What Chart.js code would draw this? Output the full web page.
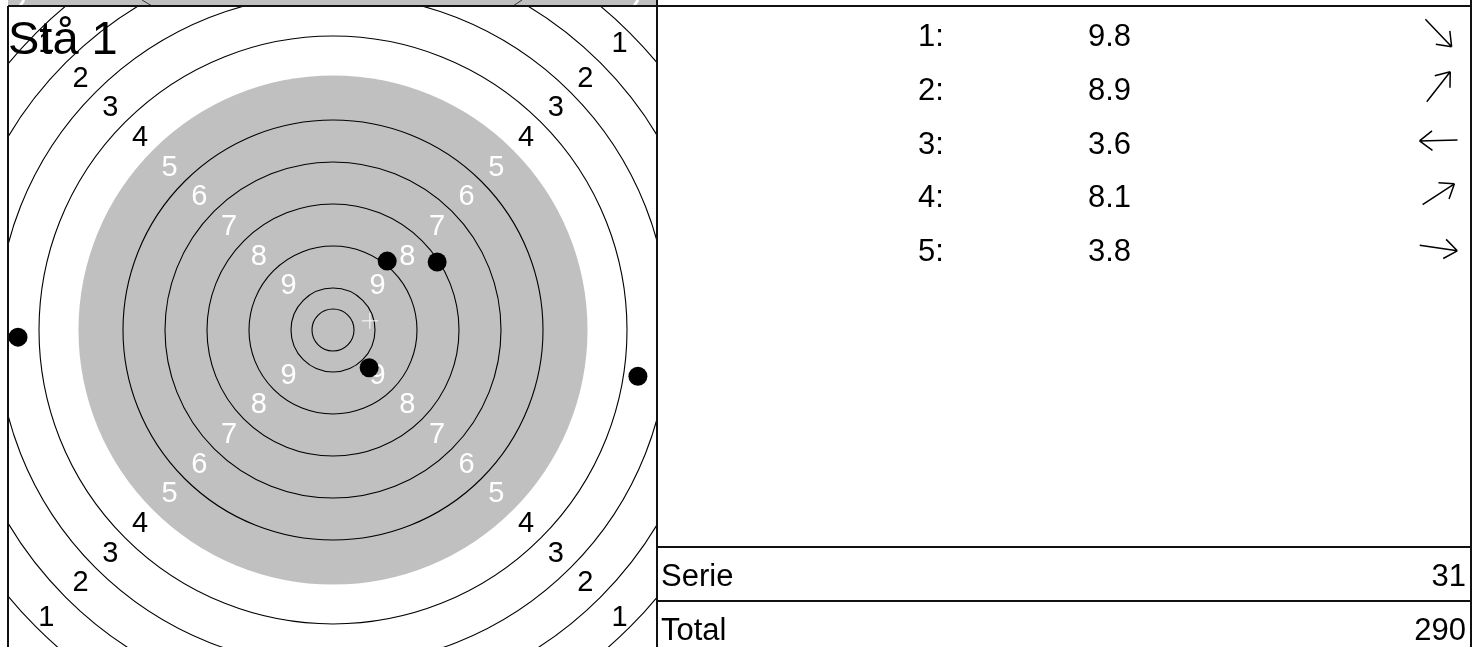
<!DOCTYPE html>
<html><head><meta charset="utf-8">
<script src="https://cdn.jsdelivr.net/npm/chart.js@4.4.0/dist/chart.umd.min.js"></script>
<style>html,body{margin:0;padding:0;background:#fff;overflow:hidden}canvas{display:block}</style>
</head><body>
<canvas id="c" width="1477" height="647"></canvas>
<script>
// ---- data ----
const seriesTitle = 'Stå 1';
const shotNumbers = [1, 2, 3, 4, 5];
const shotScores = [9.8, 8.9, 3.6, 8.1, 3.8];
const shotX = [0.86, 1.29, -7.50, 2.48, 7.26];   // ring units, right +
const shotY = [-0.90, 1.64, -0.17, 1.62, -1.10]; // ring units, up +
const ringValues = [1, 2, 3, 4, 5, 6, 7, 8, 9, 10];
const ringLabelValues = [1, 2, 3, 4, 5, 6, 7, 8, 9];
const aimRingFrom = 5;          // grey aiming area covers rings 5..10
const serieLabel = 'Serie', serieScore = 31;
const totalLabel = 'Total', totalScore = 290;

const FONT = "'Liberation Sans', Arial, Helvetica, sans-serif";
const mean = a => a.reduce((s, v) => s + v, 0) / a.length;

const targetPlugin = {
  id: 'target',
  beforeDatasetsDraw(chart) {
    const ctx = chart.ctx, xs = chart.scales.x, ys = chart.scales.y, ca = chart.chartArea;
    const cx = xs.getPixelForValue(0), cy = ys.getPixelForValue(0);
    const unit = xs.getPixelForValue(1) - cx;
    ctx.save();
    ctx.beginPath(); ctx.rect(ca.left, ca.top, ca.right - ca.left, ca.bottom - ca.top); ctx.clip();
    // grey aiming disc
    ctx.fillStyle = '#c0c0c0';
    ctx.beginPath(); ctx.arc(cx, cy, (11 - aimRingFrom + 0.06) * unit, 0, Math.PI * 2); ctx.fill();
    // rings
    ctx.strokeStyle = '#000'; ctx.lineWidth = 1.1;
    ringValues.forEach(v => {
      if (v === aimRingFrom) return;
      ctx.beginPath(); ctx.arc(cx, cy, (11 - v) * unit, 0, Math.PI * 2); ctx.stroke();
    });
    ctx.beginPath(); ctx.arc(cx, cy, 0.5 * unit, 0, Math.PI * 2); ctx.stroke();
    // ring numbers on the diagonals
    ctx.font = '29px ' + FONT; ctx.textAlign = 'center'; ctx.textBaseline = 'middle';
    ringLabelValues.forEach(v => {
      const d = (11 - v - 0.5 + (v === 1 ? 0.15 : 0)) * unit * Math.SQRT1_2;
      ctx.fillStyle = v >= aimRingFrom ? '#fff' : '#000';
      [[1, -1], [-1, -1], [1, 1], [-1, 1]].forEach(([sx, sy]) => {
        ctx.fillText(String(v), cx + sx * d, cy + sy * d + 1);
      });
    });
    ctx.restore();
  },
  afterDatasetsDraw(chart) {
    const ctx = chart.ctx, ca = chart.chartArea;
    ctx.save();
    // top strip
    ctx.fillStyle = '#c0c0c0'; ctx.fillRect(ca.left, 0, ca.right - ca.left, ca.top);
    ctx.strokeStyle = '#fff'; ctx.lineWidth = 3;
    ctx.beginPath(); ctx.moveTo(24, 0); ctx.lineTo(20, 6); ctx.moveTo(638, 0); ctx.lineTo(634, 6); ctx.stroke();
    ctx.strokeStyle = '#333'; ctx.lineWidth = 1;
    ctx.beginPath(); ctx.moveTo(142, 0); ctx.lineTo(152, 6); ctx.moveTo(522, 0); ctx.lineTo(513, 6); ctx.stroke();
    // frame
    ctx.strokeStyle = '#111'; ctx.lineWidth = 2;
    const R = 1471;
    ctx.beginPath();
    ctx.moveTo(ca.left, ca.top); ctx.lineTo(R, ca.top);
    ctx.moveTo(ca.left, ca.top); ctx.lineTo(ca.left, 647);
    ctx.moveTo(ca.right, 0); ctx.lineTo(ca.right, 647);
    ctx.moveTo(R, 0); ctx.lineTo(R, 647);
    ctx.moveTo(ca.right, 547); ctx.lineTo(R, 547);
    ctx.moveTo(ca.right, 601); ctx.lineTo(R, 601);
    ctx.stroke();
    // title
    ctx.fillStyle = '#000'; ctx.font = '47px ' + FONT; ctx.textAlign = 'left'; ctx.textBaseline = 'alphabetic';
    ctx.fillText(seriesTitle, 8, 54);
    // shot table
    ctx.font = '31px ' + FONT;
    shotNumbers.forEach((n, i) => {
      const y = 46 + 53.75 * i;
      ctx.textAlign = 'left';
      ctx.fillText(n + ':', 918, y);
      ctx.fillText(shotScores[i].toFixed(1), 1088, y);
      // direction arrow
      const ang = Math.atan2(-shotY[i], shotX[i]);
      const ax = 1438.5, ay = y - 13, L = 19;
      const tx = ax + Math.cos(ang) * L, ty = ay + Math.sin(ang) * L;
      const bx = ax - Math.cos(ang) * L, by = ay - Math.sin(ang) * L;
      ctx.strokeStyle = '#000'; ctx.lineWidth = 1.5;
      ctx.beginPath(); ctx.moveTo(bx, by); ctx.lineTo(tx, ty);
      [0.65, -0.65].forEach(da => {
        ctx.moveTo(tx, ty);
        ctx.lineTo(tx - Math.cos(ang + da) * 16, ty - Math.sin(ang + da) * 16);
      });
      ctx.stroke();
    });
    ctx.textAlign = 'left';
    ctx.fillText(serieLabel, 661, 586);
    ctx.fillText(totalLabel, 661, 640);
    ctx.textAlign = 'right';
    ctx.fillText(String(serieScore), 1466, 586);
    ctx.fillText(String(totalScore), 1466, 640);
    ctx.restore();
  }
};

new Chart(document.getElementById('c'), {
  type: 'scatter',
  data: {
    datasets: [
      { label: 'MPI', data: [{ x: mean(shotX), y: mean(shotY) }], pointStyle: 'cross', pointRadius: 8,
        borderColor: '#fff', backgroundColor: '#fff', borderWidth: 1, clip: false },
      { label: 'Skott', data: shotX.map((x, i) => ({ x, y: shotY[i] })), pointRadius: 9.5,
        backgroundColor: '#000', borderColor: '#000', borderWidth: 0, clip: false }
    ]
  },
  options: {
    responsive: false, animation: false, events: [],
    layout: { autoPadding: false, padding: { left: 8, top: 6, right: 820, bottom: 0 } },
    scales: {
      x: { type: 'linear', min: -325 / 42, max: 324 / 42, display: false },
      y: { type: 'linear', min: -317 / 42, max: 324 / 42, display: false }
    },
    plugins: { legend: { display: false }, tooltip: { enabled: false }, title: { display: false } }
  },
  plugins: [targetPlugin]
});
</script>
</body></html>
